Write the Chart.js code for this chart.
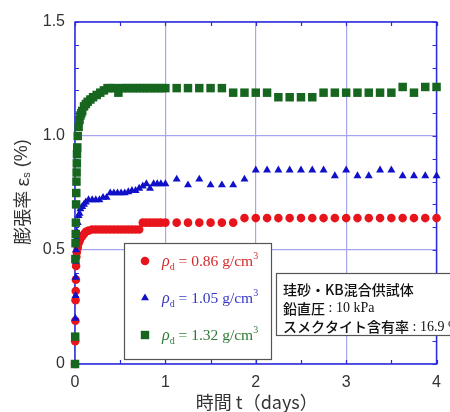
<!DOCTYPE html>
<html><head><meta charset="utf-8">
<script src="https://cdn.jsdelivr.net/npm/chart.js@4.4.0/dist/chart.umd.min.js"></script>
<style>html,body{margin:0;padding:0;background:#fff;}canvas{display:block;}</style>
</head><body>
<canvas id="c" width="450" height="412"></canvas>
<script>
// ---- data (time in days, swelling strain in %) ----
const tRed = [0,0.002,0.004,0.006,0.008,0.01,0.012,0.015,0.02,0.03,0.04,0.05,0.06,0.08,0.1,0.12,
  0.15,0.19,0.23,0.27,0.31,0.35,0.39,0.43,0.47,0.51,0.55,0.59,0.63,0.67,0.71,
  0.75,0.79,0.83,0.87,0.91,0.95,1.0,1.125,1.25,1.375,1.5,1.625,1.75,
  1.875,2.0,2.125,2.25,2.375,2.5,2.625,2.75,2.875,3.0,3.125,3.25,3.375,3.5,3.625,3.75,3.875,4.0];
const vRed = [0,0.10,0.19,0.28,0.32,0.37,0.43,0.47,0.49,0.51,0.53,0.54,0.55,0.56,0.57,0.58,
  0.585,0.59,0.59,0.59,0.59,0.59,0.59,0.59,0.59,0.59,0.59,0.59,0.59,0.59,0.59,
  0.62,0.62,0.62,0.62,0.62,0.62,0.62,0.62,0.62,0.62,0.62,0.62,0.62,
  0.64,0.64,0.64,0.64,0.64,0.64,0.64,0.64,0.64,0.64,0.64,0.64,0.64,0.64,0.64,0.64,0.64,0.64];

const tBlue = [0,0.002,0.004,0.006,0.008,0.01,0.012,0.015,0.02,0.03,0.04,0.05,0.06,0.08,0.1,0.12,
  0.15,0.19,0.23,0.27,0.31,0.35,0.39,0.43,0.47,0.51,0.55,0.59,0.63,0.67,0.71,
  0.75,0.79,0.83,0.87,0.91,0.95,1.0,1.125,1.25,1.375,1.5,1.625,1.75,
  1.875,2.0,2.125,2.25,2.375,2.5,2.625,2.75,2.875,3.0,3.125,3.25,3.375,3.5,3.625,3.75,3.875,4.0];
const vBlue = [0,0.12,0.20,0.30,0.38,0.45,0.50,0.55,0.58,0.62,0.65,0.66,0.68,0.69,0.70,0.71,
  0.72,0.72,0.72,0.72,0.73,0.73,0.75,0.75,0.75,0.75,0.75,0.755,0.76,0.76,0.77,
  0.78,0.79,0.77,0.79,0.79,0.79,0.79,0.81,0.785,0.81,0.785,0.785,0.785,
  0.81,0.85,0.85,0.85,0.85,0.85,0.85,0.85,0.825,0.85,0.825,0.825,0.85,0.85,0.825,0.825,0.825,0.825];

const tGreen = [0,0.002,0.004,0.006,0.008,0.01,0.012,0.014,0.016,0.018,0.02,0.022,0.025,0.03,0.04,0.05,0.06,0.07,0.08,
  0.1,0.12,0.14,0.17,0.2,0.24,0.28,0.32,0.36,0.4,0.44,0.48,0.52,0.56,0.6,0.64,0.68,0.72,0.76,0.8,0.84,0.88,0.92,0.96,
  1.0,1.125,1.25,1.375,1.5,1.625,1.75,1.875,2.0,2.125,2.25,2.375,2.5,2.625,2.75,2.875,3.0,3.125,3.25,3.375,3.5,3.625,3.75,3.875,4.0];
const vGreen = [0,0.12,0.46,0.53,0.57,0.62,0.70,0.75,0.80,0.84,0.88,0.92,0.95,1.00,1.04,1.07,1.09,1.10,1.11,
  1.13,1.14,1.15,1.16,1.17,1.18,1.19,1.20,1.21,1.21,1.21,1.19,1.21,1.21,1.21,1.21,1.21,1.21,1.21,1.21,1.21,1.21,1.21,1.21,
  1.21,1.21,1.21,1.21,1.21,1.21,1.19,1.19,1.19,1.19,1.17,1.17,1.17,1.17,1.19,1.19,1.19,1.19,1.19,1.19,1.19,1.215,1.19,1.215,1.215];

const seriesNames = ['0.86','1.05','1.32'];
const xTickLabels = ['0','1','2','3','4'];
const yTickLabels = ['0','0.5','1.0','1.5'];
const xTitle = '時間 t（days）';
const yTitleMain = '膨張率 ε';
const yTitleSub = 's';
const yTitleTail = ' (%)';
const noteLines = [['珪砂・KB混合供試体',''],['鉛直圧',' : 10 kPa'],['スメクタイト含有率',' : 16.9 %']];

const RED = '#e8141c', BLUE = '#1010c8', GREEN = '#17661f';
const pts = (t, v) => t.map((x, i) => ({x: x, y: v[i]}));

const near = (v, step) => Math.abs(v / step - Math.round(v / step)) < 1e-6;

const CJK = '"Noto Sans CJK JP"';
const SERIF = '"Liberation Serif", "DejaVu Serif", serif';
const SANS = '"Liberation Sans", Arial, sans-serif';

function drawSegs(ctx, x, y, segs) {
  let cx = x;
  segs.forEach(s => {
    ctx.font = s.font;
    ctx.fillStyle = s.color;
    ctx.fillText(s.text, cx, y + (s.dy || 0));
    cx += ctx.measureText(s.text).width;
  });
  return cx - x;
}
function segsWidth(ctx, segs) {
  let w = 0;
  segs.forEach(s => { ctx.font = s.font; w += ctx.measureText(s.text).width; });
  return w;
}
function marker(ctx, style, x, y, color) {
  ctx.fillStyle = color;
  ctx.beginPath();
  if (style === 'circle') { ctx.arc(x, y, 4.3, 0, Math.PI * 2); }
  else if (style === 'triangle') {
    const r = 4.6;
    ctx.moveTo(x, y - r);
    ctx.lineTo(x + r * Math.sin(Math.PI / 3), y + r / 2);
    ctx.lineTo(x - r * Math.sin(Math.PI / 3), y + r / 2);
    ctx.closePath();
  } else { ctx.rect(x - 4.2, y - 4.2, 8.4, 8.4); }
  ctx.fill();
}

const framePlugin = {
  id: 'frame',
  beforeDatasetsDraw(chart) {
    const {ctx, chartArea: a, scales} = chart;
    ctx.save();
    ctx.strokeStyle = '#2b2bdc';
    ctx.lineWidth = 1.5;
    ctx.strokeRect(a.left, a.top, a.right - a.left, a.bottom - a.top);
    ctx.lineWidth = 1.2;
    ctx.beginPath();
    scales.y.ticks.forEach(t => {
      const p = Math.round(scales.y.getPixelForValue(t.value)) + 0.5;
      ctx.moveTo(a.left, p); ctx.lineTo(a.left + 4, p);
      ctx.moveTo(a.right, p); ctx.lineTo(a.right - 4, p);
    });
    scales.x.ticks.forEach(t => {
      const p = Math.round(scales.x.getPixelForValue(t.value)) + 0.5;
      ctx.moveTo(p, a.bottom); ctx.lineTo(p, a.bottom - 4);
      ctx.moveTo(p, a.top); ctx.lineTo(p, a.top + 4);
    });
    ctx.stroke();
    ctx.restore();
  },
  afterDraw(chart) {
    const {ctx, chartArea: a} = chart;
    ctx.save();
    // axis titles
    ctx.textBaseline = 'middle';
    ctx.fillStyle = '#333';
    ctx.font = '18px ' + CJK;
    ctx.textAlign = 'center';
    ctx.fillText(xTitle, (a.left + a.right) / 2 + 1, 402);
    ctx.textAlign = 'left';
    const ysegs = [
      {text: yTitleMain, font: '18px ' + CJK, color: '#333'},
      {text: yTitleSub, font: '11px ' + SANS, color: '#333', dy: 5},
      {text: yTitleTail, font: '18px ' + SANS, color: '#333'}
    ];
    ctx.translate(22, 192);
    ctx.rotate(-Math.PI / 2);
    const yw = segsWidth(ctx, ysegs);
    drawSegs(ctx, -yw / 2, 0, ysegs);
    ctx.setTransform(1, 0, 0, 1, 0, 0);

    // legend box
    ctx.fillStyle = '#fff';
    ctx.fillRect(124, 243, 148, 117);
    ctx.strokeStyle = '#555';
    ctx.lineWidth = 1.2;
    ctx.strokeRect(124.5, 243.5, 147, 116);
    const styles = ['circle', 'triangle', 'rect'];
    const mcol = [RED, BLUE, GREEN];
    const tcol = ['#d42a2a', '#3838c4', '#2f7a36'];
    seriesNames.forEach((n, i) => {
      const y = 261 + i * 37;
      marker(ctx, styles[i], 145, y, mcol[i]);
      ctx.textBaseline = 'alphabetic';
      drawSegs(ctx, 162, y + 5, [
        {text: 'ρ', font: 'italic 16px ' + SERIF, color: tcol[i]},
        {text: 'd', font: '10px ' + SERIF, color: tcol[i], dy: 4},
        {text: ' = ' + n + ' g/cm', font: '15.5px ' + SERIF, color: tcol[i]},
        {text: '3', font: '10px ' + SERIF, color: tcol[i], dy: -7}
      ]);
    });

    // note box
    ctx.fillStyle = '#fff';
    ctx.fillRect(276, 273, 200, 63);
    ctx.strokeStyle = '#555';
    ctx.strokeRect(276.5, 273.5, 200, 62);
    ctx.textBaseline = 'middle';
    noteLines.forEach((l, i) => {
      drawSegs(ctx, 283, 290 + i * 18.5, [
        {text: l[0], font: '500 14px ' + CJK, color: '#111'},
        {text: l[1], font: '14px ' + SERIF, color: '#111'}
      ]);
    });
    ctx.restore();
  }
};

new Chart(document.getElementById('c'), {
  type: 'scatter',
  data: {
    datasets: [
      {label: 'ρd = 0.86', data: pts(tRed, vRed), pointStyle: 'circle', pointRadius: 4.3,
       backgroundColor: RED, borderColor: RED, borderWidth: 0, clip: false, order: 3},
      {label: 'ρd = 1.05', data: pts(tBlue, vBlue), pointStyle: 'triangle', pointRadius: 4.6,
       backgroundColor: BLUE, borderColor: BLUE, borderWidth: 0, clip: false, order: 2},
      {label: 'ρd = 1.32', data: pts(tGreen, vGreen), pointStyle: 'rect', pointRadius: 6,
       backgroundColor: GREEN, borderColor: GREEN, borderWidth: 0, clip: false, order: 1}
    ]
  },
  options: {
    responsive: false,
    animation: false,
    devicePixelRatio: 1,
    layout: {padding: {left: 0, top: 22, right: 5, bottom: 0}},
    plugins: {legend: {display: false}, tooltip: {enabled: false}},
    scales: {
      x: {
        type: 'linear', min: 0, max: 4,
        afterFit(s) { s.height = 48; },
        border: {display: false},
        grid: {drawTicks: false, lineWidth: 1.2,
               color: c => near(c.tick.value, 1) ? '#a6a6ef' : 'rgba(0,0,0,0)'},
        ticks: {stepSize: 0.5, autoSkip: false, maxRotation: 0, padding: 9, color: '#333',
                font: {family: 'Liberation Sans', size: 16},
                callback: v => near(v, 1) ? xTickLabels[Math.round(v)] : ''}
      },
      y: {
        type: 'linear', min: 0, max: 1.5,
        afterFit(s) { s.width = 75; },
        border: {display: false},
        grid: {drawTicks: false, lineWidth: 1.2,
               color: c => near(c.tick.value, 0.5) ? '#a6a6ef' : 'rgba(0,0,0,0)'},
        ticks: {stepSize: 0.1, autoSkip: false, padding: 10, color: '#333',
                font: {family: 'Liberation Sans', size: 16},
                callback: v => near(v, 0.5) ? yTickLabels[Math.round(v / 0.5)] : ''}
      }
    }
  },
  plugins: [framePlugin]
});
</script>
</body></html>
